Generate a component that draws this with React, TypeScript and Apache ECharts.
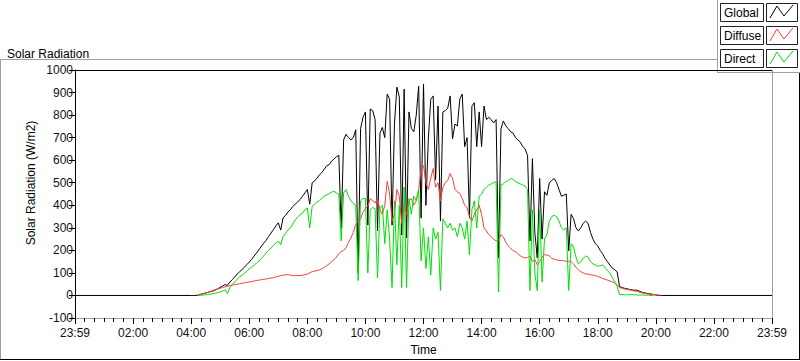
import React, { useEffect, useRef } from "react";
import * as echarts from "echarts";

// Sampling grid: minutes after midnight, starting 04:00, every 5 minutes
const START_MIN = 240;
const STEP_MIN = 5;

// Global radiation (W/m2), one row per hour starting 04:00
const globalValues: number[] = [
  0, 0, 0, 2, 5, 8, 11, 14, 17, 20, 24, 30,
  36, 42, 48, 45, 60, 70, 82, 95, 105, 115, 125, 137,
  148, 160, 175, 188, 203, 218, 232, 245, 262, 277, 292, 308,
  322, 290, 345, 355, 370, 380, 395, 405, 415, 425, 440, 455,
  470, 405, 500, 508, 520, 535, 545, 560, 575, 580, 595, 605,
  615, 622, 300, 690, 715, 700, 690, 700, 735, 100, 740, 790,
  814, 312, 827, 820, 780, 286, 720, 745, 700, 893, 870, 312,
  760, 924, 880, 268, 915, 255, 814, 740, 726, 800, 928, 343,
  938, 400, 695, 870, 885, 514, 840, 330, 814, 820, 830, 885,
  695, 760, 752, 871, 893, 660, 700, 343, 840, 855, 660, 814,
  660, 840, 780, 790, 780, 765, 780, 167, 739, 774, 752, 740,
  726, 720, 700, 690, 680, 660, 650, 620, 242, 607, 280, 167,
  519, 250, 460, 444, 500, 510, 519, 500, 470, 440, 445, 450,
  198, 360, 340, 300, 286, 300, 320, 330, 320, 280, 250, 230,
  220, 200, 185, 165, 150, 135, 122, 114, 105, 40, 35, 32,
  30, 27, 25, 23, 24, 20, 15, 12, 10, 8, 6, 4,
  2, 0, 0, 0,
];

// Diffuse radiation (W/m2)
const diffuseValues: (number | null)[] = [
  null, null, null, 1, 5, 8, 11, 14, 18, 22, 26, 29,
  32, 35, 38, 40, 44, 46, 48, 50, 52, 54, 56, 58,
  60, 62, 64, 66, 68, 70, 72, 73, 75, 77, 79, 82,
  85, 88, 90, 92, 92, 90, 88, 88, 88, 88, 90, 92,
  95, 100, 106, 108, 110, 114, 118, 125, 132, 140, 150, 158,
  170, 185, 195, 200, 211, 235, 255, 280, 315, 330, 340, 370,
  385, 395, 430, 420, 410, 430, 380, 360, 400, 506, 450, 330,
  360, 470, 440, 320, 400, 360, 420, 430, 400, 420, 470, 560,
  576, 500, 470, 520, 563, 480, 500, 420, 480, 500, 510, 541,
  520, 470, 460, 453, 430, 400, 390, 350, 330, 360, 380, 400,
  360, 300, 286, 270, 260, 250, 242, 245, 270, 260, 235, 220,
  210, 198, 195, 185, 176, 170, 167, 168, 175, 150, 160, 136,
  150, 170, 180, 180, 175, 165, 160, 158, 155, 155, 154, 150,
  152, 150, 140, 125, 114, 105, 100, 95, 95, 92, 90, 88,
  85, 80, 75, 72, 68, 64, 60, 55, 48, 35, 32, 29,
  27, 25, 22, 20, 18, 15, 12, 10, 8, 6, 5, 4,
  3, 2, 1, null,
];

// Direct radiation (W/m2)
const directValues: (number | null)[] = [
  null, null, null, 0, 1, 2, 3, 4, 6, 8, 10, 13,
  16, 20, 25, 8, 35, 48, 60, 72, 82, 90, 98, 108,
  118, 126, 134, 143, 153, 164, 176, 188, 200, 211, 222, 232,
  240, 225, 262, 275, 290, 300, 318, 335, 348, 358, 365, 380,
  388, 300, 396, 405, 415, 420, 430, 440, 446, 452, 458, 462,
  455, 450, 242, 455, 470, 440, 420, 410, 396, 66, 420, 430,
  431, 100, 380, 390, 385, 79, 390, 400, 230, 380, 250, 35,
  420, 136, 400, 35, 480, 35, 430, 360, 440, 420, 470, 154,
  300, 120, 260, 90, 300, 250, 280, 22, 340, 320, 300, 320,
  290, 300, 260, 320, 300, 250, 330, 180, 380, 420, 300, 440,
  450, 470, 480, 490, 495, 500, 505, 15, 490, 495, 505, 510,
  519, 515, 505, 500, 495, 490, 485, 470, 22, 380, 100, 22,
  380, 60, 250, 268, 330, 350, 356, 350, 330, 300, 290, 300,
  22, 230, 215, 170, 140, 150, 165, 175, 170, 150, 140, 135,
  130, 132, 135, 125, 110, 100, 80, 60, 40, 4, 4, 3,
  3, 3, 4, 3, 2, 2, 2, 2, 1, 1, 0, 0,
  null, null, null, null,
];

const seriesNames = ["Global", "Diffuse", "Direct"];
const seriesColors = ["#000000", "#ff3c3c", "#00e000"];
const yTicks = { min: -100, max: 1000, interval: 100 };
const xTicks = { min: 0, max: 1440, interval: 120 };

function toPairs(values: (number | null)[]) {
  const out: [number, number][] = [];
  values.forEach((v, i) => {
    if (v !== null) out.push([START_MIN + i * STEP_MIN, v]);
  });
  return out;
}

const FONT = "'Liberation Sans', Arial, sans-serif";

export default function App() {
  const ref = useRef<HTMLDivElement>(null);
  useEffect(() => {
    if (!ref.current) return;
    const chart = echarts.init(ref.current, null, { renderer: "svg" });
    const globalPairs = [[0, 0], ...toPairs(globalValues), [1440, 0]];
    const legendGraphics: any[] = [];
    seriesNames.forEach((name, i) => {
      const y0 = 3 + i * 23;
      legendGraphics.push(
        {
          type: "rect",
          shape: { x: 720.5, y: y0 + 0.5, width: 43, height: 18 },
          style: { fill: "#fff", stroke: "#222", lineWidth: 1 },
        },
        {
          type: "text",
          x: 724,
          y: y0 + 10,
          style: {
            text: name,
            fill: "#000",
            font: `12px ${FONT}`,
            textVerticalAlign: "middle",
          },
        },
        {
          type: "rect",
          shape: { x: 766.5, y: y0 + 0.5, width: 31, height: 18 },
          style: { fill: "#fff", stroke: "#222", lineWidth: 1 },
        },
        {
          type: "polyline",
          shape: {
            points: [
              [770, y0 + 15],
              [777, y0 + 3],
              [784, y0 + 13],
              [793, y0 + 2],
            ],
          },
          style: { stroke: seriesColors[i], lineWidth: 1, fill: null },
        }
      );
    });

    chart.setOption({
      animation: false,
      backgroundColor: "#ffffff",
      title: {
        text: "Solar Radiation",
        left: 2,
        top: 43,
        textStyle: { fontSize: 12, fontWeight: "normal", color: "#000", fontFamily: FONT },
      },
      grid: { left: 75, top: 70, right: 28, bottom: 39, containLabel: false },
      xAxis: {
        type: "value",
        min: xTicks.min,
        max: xTicks.max,
        interval: xTicks.interval,
        name: "Time",
        nameLocation: "middle",
        nameGap: 26,
        nameTextStyle: { fontSize: 12, color: "#000", fontFamily: FONT },
        axisLine: { show: true, onZero: false, lineStyle: { color: "#a0a0a0", width: 1 } },
        axisTick: { show: true, length: 6, lineStyle: { color: "#000" } },
        minorTick: { show: true, splitNumber: 6, length: 4, lineStyle: { color: "#000" } },
        splitLine: { show: false },
        axisLabel: {
          show: true,
          margin: 9,
          fontSize: 12,
          color: "#111",
          fontFamily: FONT,
          showMinLabel: true,
          showMaxLabel: true,
          formatter: (v: number) => {
            if (v === 0 || v === 1440) return "23:59";
            const h = Math.round(v / 60);
            return (h < 10 ? "0" : "") + h + ":00";
          },
        },
      },
      yAxis: {
        type: "value",
        min: yTicks.min,
        max: yTicks.max,
        interval: yTicks.interval,
        axisLine: { show: true, onZero: false, lineStyle: { color: "#000", width: 1 } },
        axisTick: { show: true, length: 6, lineStyle: { color: "#000" } },
        splitLine: { show: false },
        axisLabel: {
          margin: 2,
          fontSize: 12,
          color: "#111",
          fontFamily: FONT,
          formatter: (v: number) => String(v),
        },
      },
      graphic: [
        { type: "line", shape: { x1: 0, y1: 59.5, x2: 717, y2: 59.5 }, style: { stroke: "#a0a0a0", lineWidth: 1 } },
        { type: "line", shape: { x1: 0.5, y1: 59, x2: 0.5, y2: 360 }, style: { stroke: "#a0a0a0", lineWidth: 1 } },
        { type: "line", shape: { x1: 0, y1: 359.5, x2: 800, y2: 359.5 }, style: { stroke: "#000", lineWidth: 1 } },
        { type: "line", shape: { x1: 799.5, y1: 72, x2: 799.5, y2: 360 }, style: { stroke: "#000", lineWidth: 1 } },
        { type: "line", shape: { x1: 717.5, y1: 0, x2: 717.5, y2: 72 }, style: { stroke: "#a0a0a0", lineWidth: 1 } },
        { type: "line", shape: { x1: 717, y1: 72.5, x2: 800, y2: 72.5 }, style: { stroke: "#a0a0a0", lineWidth: 1 } },
        { type: "line", shape: { x1: 75, y1: 70.5, x2: 772, y2: 70.5 }, style: { stroke: "#000", lineWidth: 1 } },
        { type: "line", shape: { x1: 772.5, y1: 70, x2: 772.5, y2: 322 }, style: { stroke: "#a0a0a0", lineWidth: 1 } },
        {
          type: "text",
          x: 31,
          y: 183,
          rotation: Math.PI / 2,
          style: {
            text: "Solar Radiation (W/m2)",
            fill: "#000",
            font: `12px ${FONT}`,
            textAlign: "center",
            textVerticalAlign: "middle",
          },
        },
        ...legendGraphics,
      ],
      series: [
        {
          name: seriesNames[0],
          type: "line",
          data: globalPairs,
          showSymbol: false,
          lineStyle: { color: seriesColors[0], width: 1 },
          itemStyle: { color: seriesColors[0] },
        },
        {
          name: seriesNames[1],
          type: "line",
          data: toPairs(diffuseValues),
          showSymbol: false,
          lineStyle: { color: seriesColors[1], width: 1 },
          itemStyle: { color: seriesColors[1] },
        },
        {
          name: seriesNames[2],
          type: "line",
          data: toPairs(directValues),
          showSymbol: false,
          lineStyle: { color: seriesColors[2], width: 1 },
          itemStyle: { color: seriesColors[2] },
        },
      ],
    });
    return () => chart.dispose();
  }, []);
  return <div ref={ref} style={{ width: 800, height: 361, position: "absolute", left: 0, top: 0 }} />;
}
